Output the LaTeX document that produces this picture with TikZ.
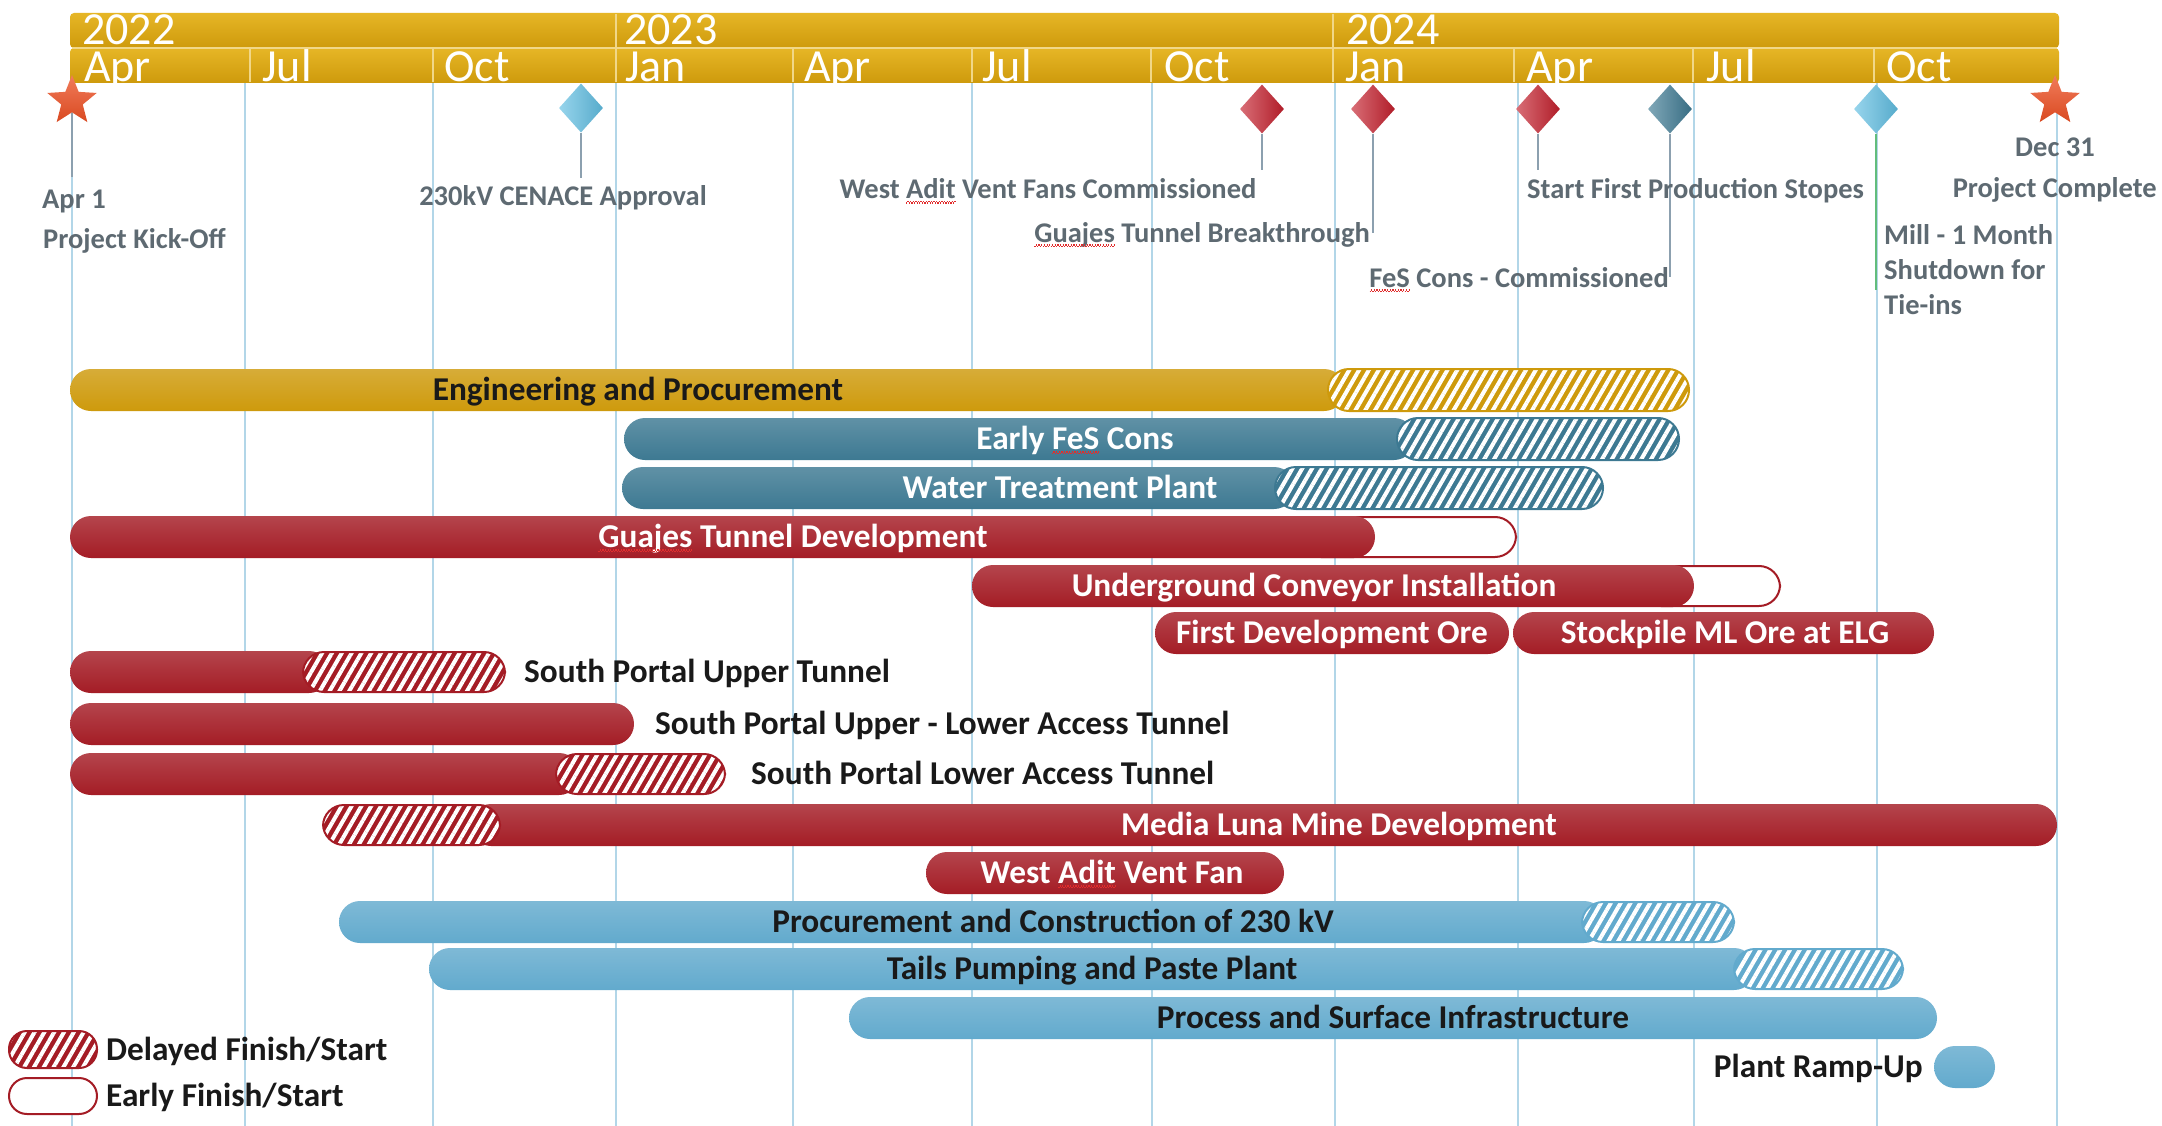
\documentclass[tikz,border=0pt]{standalone}
\usepackage{fontspec}
\setmainfont{Carlito}
\usetikzlibrary{shapes.geometric,patterns.meta}
\definecolor{cGold}{RGB}{206,154,12}
\definecolor{cGoldLt}{RGB}{230,182,38}
\definecolor{cTeal}{RGB}{61,121,146}
\definecolor{cRed}{RGB}{164,28,37}
\definecolor{cBlue}{RGB}{98,170,205}
\definecolor{cDiaBlue}{RGB}{96,190,226}
\definecolor{cDiaRed}{RGB}{196,32,45}
\definecolor{cStar}{RGB}{236,80,36}
\definecolor{cLab}{RGB}{94,106,114}
\definecolor{cGrid}{RGB}{178,214,232}
\definecolor{cStem}{RGB}{140,160,175}
\definecolor{cInk}{RGB}{25,25,25}
\definecolor{cSq}{RGB}{225,45,45}
\newsavebox\sqbox
\newcommand\sqw[1]{\sbox\sqbox{#1}\rlap{\usebox\sqbox}\textcolor{cSq}{\hbox to \wd\sqbox{\xleaders\hbox{\rule[-4.6pt]{1.3pt}{1.1pt}\rule[-3.5pt]{1.3pt}{1.1pt}}\hfill}}}
\begin{document}
\begin{tikzpicture}[x=1pt,y=-1pt,
  lab/.style={font=\fontsize{28.5}{32}\selectfont\bfseries, text=cLab, inner sep=0pt},
  btxt/.style={font=\fontsize{33.3}{37}\selectfont\bfseries, inner sep=0pt, anchor=base},
  hdr/.style={font=\fontsize{46}{46}\selectfont, text=white, inner sep=0pt, anchor=base west},
  gridline/.style={draw=cGrid, line width=1.4pt},
  stemline/.style={draw=cStem, line width=1.4pt},
  hsep/.style={draw=cGoldLt!55!white, line width=1.2pt},
  barfill/.style={top color=#1!82!white, bottom color=#1, rounded corners=21pt},
  hatchbar/.style={preaction={fill=#1}, pattern={Lines[angle=60,distance=8.5pt,line width=4pt]}, pattern color=white, draw=#1, line width=2pt, rounded corners=21pt},
  earlybar/.style={fill=white, draw=#1, line width=2pt, rounded corners=21pt},
  dia/.style={diamond, minimum width=44pt, minimum height=49pt, inner sep=0pt, left color=#1!65!white, right color=#1!90!black},
  starm/.style={star, star points=5, star point ratio=2.3, minimum size=52pt, inner sep=0pt, top color=cStar!75!white, bottom color=cStar!92!black},
]
\useasboundingbox (0,0) rectangle (2162,1126);
\fill[white] (0,0) rectangle (2162,1126);

% grid lines
\foreach \gx in {72,245,433,616,793,972,1152,1335,1518,1694,1877,2057}
  \draw[gridline] (\gx,83) -- (\gx,1126);

% header
\path[top color=cGoldLt, bottom color=cGold, rounded corners=4pt] (70,13) rectangle (2059,48);
\path[top color=cGoldLt, bottom color=cGold, rounded corners=4pt] (70,48) rectangle (2059,83);
\draw[hsep] (72,48) -- (2057,48);
\foreach \gx in {616,1333} \draw[hsep] (\gx,14) -- (\gx,82);
\foreach \gx in {250,433,793,972,1151,1514,1693,1874} \draw[hsep] (\gx,49) -- (\gx,82);
\begin{scope}
\clip (70,13) rectangle (2059,48);
\node[hdr] (y22) at (82,45) {2022};
\node[hdr] (y23) at (624,45) {2023};
\node[hdr] (y24) at (1346,45) {2024};
\end{scope}
\begin{scope}
\clip (70,48) rectangle (2059,83);
\node[hdr] (q1) at (84,82) {Apr};
\node[hdr] (q2) at (262,82) {Jul};
\node[hdr] (q3) at (444,82) {Oct};
\node[hdr] (q4) at (625,82) {Jan};
\node[hdr] (q5) at (804,82) {Apr};
\node[hdr] (q6) at (982,82) {Jul};
\node[hdr] (q7) at (1164,82) {Oct};
\node[hdr] (q8) at (1345,82) {Jan};
\node[hdr] (q9) at (1526,82) {Apr};
\node[hdr] (q10) at (1706,82) {Jul};
\node[hdr] (q11) at (1886,82) {Oct};
\end{scope}

% milestones
\coordinate (e1) at (72,177);
\coordinate (e2) at (581,178);
\coordinate (e3) at (1262,170);
\coordinate (e4) at (1373,233);
\coordinate (e5) at (1538,170);
\coordinate (e6) at (1670,277);
\coordinate (e7) at (1876,290);
\node[dia=cDiaBlue] (m2) at (581,108) {};
\node[dia=cDiaRed] (m3) at (1262,109) {};
\node[dia=cDiaRed] (m4) at (1373,109) {};
\node[dia=cDiaRed] (m5) at (1538,109) {};
\node[dia=cTeal] (m6) at (1670,109) {};
\node[dia=cDiaBlue] (m7) at (1876,109) {};
\node[starm] (m1) at (72,101) {};
\node[starm] (m8) at (2055,101) {};
\draw[stemline] (m1.south) -- (e1);
\draw[stemline] (m2.south) -- (e2);
\draw[stemline] (m3.south) -- (e3);
\draw[stemline] (m4.south) -- (e4);
\draw[stemline] (m5.south) -- (e5);
\draw[stemline] (m6.south) -- (e6);
\draw[stemline, draw=cStem!70!green] (m7.south) -- (e7);

% milestone labels
\node[lab, anchor=base west] (l1a) at (42,208) {Apr 1};
\node[lab, anchor=base west] (l1b) at (43,248) {Project Kick-Off};
\node[lab, anchor=base] (l2) at (563,205) {230kV CENACE Approval};
\node[lab, anchor=base] (l3) at (1048,199) {West \sqw{Adit} Vent Fans Commissioned};
\node[lab, anchor=base east] (l4) at (1370,242) {\sqw{Guajes} Tunnel Breakthrough};
\node[lab, anchor=base east] (l5) at (1669,287) {\sqw{FeS} Cons - Commissioned};
\node[lab, anchor=base west] (l6) at (1527,199) {Start First Production Stopes};
\node[lab, anchor=base] (l7a) at (2055,157) {Dec 31};
\node[lab, anchor=base east] (l7b) at (2157,197) {Project Complete};
\node[lab, anchor=base west] (l8a) at (1884,244) {Mill - 1 Month};
\node[lab, anchor=base west] (l8b) at (1884,279) {Shutdown for};
\node[lab, anchor=base west] (l8c) at (1884,314) {Tie-ins};

% bars
% R1
\path[barfill=cGold] (70,369) rectangle (1345,411);
\path[hatchbar=cGold] (1328,369) rectangle (1689,411);
\node[btxt, text=cInk] (b1) at (638,400) {Engineering and Procurement};
% R2
\path[barfill=cTeal] (624,418) rectangle (1415,460);
\path[hatchbar=cTeal] (1397,418) rectangle (1679,460);
\node[btxt, text=white] (b2) at (1075,449) {Early \sqw{FeS} Cons};
% R3
\path[barfill=cTeal] (622,467) rectangle (1295,509);
\path[hatchbar=cTeal] (1275,467) rectangle (1603,509);
\node[btxt, text=white] (b3) at (1060,498) {Water Treatment Plant};
% R4
\path[earlybar=cRed] (1300,517) rectangle (1516,557);
\path[barfill=cRed] (70,516) rectangle (1375,558);
\node[btxt, text=white] (b4) at (793,547) {\sqw{Guajes} Tunnel Development};
% R5
\path[earlybar=cRed] (1640,566) rectangle (1780,606);
\path[barfill=cRed] (972,565) rectangle (1694,607);
\node[btxt, text=white] (b5) at (1314,596) {Underground Conveyor Installation};
% R6
\path[barfill=cRed] (1155,612) rectangle (1509,654);
\node[btxt, text=white] (b6) at (1332,643) {First Development Ore};
\path[barfill=cRed] (1513,612) rectangle (1934,654);
\node[btxt, text=white] (b7) at (1725,643) {Stockpile ML Ore at ELG};
% R7
\path[barfill=cRed] (70,651) rectangle (330,693);
\path[hatchbar=cRed] (303,652) rectangle (505,692);
\node[btxt, anchor=base west, text=cInk] (b8) at (524,682) {South Portal Upper Tunnel};
% R8
\path[barfill=cRed] (70,703) rectangle (634,745);
\node[btxt, anchor=base west, text=cInk] (b9) at (655,734) {South Portal Upper - Lower Access Tunnel};
% R9
\path[barfill=cRed] (70,753) rectangle (580,795);
\path[hatchbar=cRed] (556,754) rectangle (725,794);
\node[btxt, anchor=base west, text=cInk] (b10) at (751,784) {South Portal Lower Access Tunnel};
% R10
\path[barfill=cRed] (470,804) rectangle (2057,846);
\path[hatchbar=cRed] (323,805) rectangle (500,845);
\node[btxt, text=white] (b11) at (1339,835) {Media Luna Mine Development};
% R11
\path[barfill=cRed] (926,852) rectangle (1284,894);
\node[btxt, text=white] (b12) at (1112,883) {West \sqw{Adit} Vent Fan};
% R12
\path[barfill=cBlue] (339,901) rectangle (1605,943);
\path[hatchbar=cBlue] (1582,902) rectangle (1734,942);
\node[btxt, text=cInk] (b13) at (1053,932) {Procurement and Construction of 230 kV};
% R13
\path[barfill=cBlue] (429,948) rectangle (1755,990);
\path[hatchbar=cBlue] (1734,949) rectangle (1903,989);
\node[btxt, text=cInk] (b14) at (1092,979) {Tails Pumping and Paste Plant};
% R14
\path[barfill=cBlue] (849,997) rectangle (1937,1039);
\node[btxt, text=cInk] (b15) at (1393,1028) {Process and Surface Infrastructure};
% R15
\path[barfill=cBlue] (1934,1046) rectangle (1995,1088);
\node[btxt, anchor=base east, text=cInk] (b16) at (1923,1077) {Plant Ramp-Up};

% legend
\path[hatchbar=cRed, rounded corners=18pt] (9,1031) rectangle (97,1068);
\node[btxt, anchor=base west, text=cInk] (g1) at (106,1060) {Delayed Finish/Start};
\path[earlybar=cRed, rounded corners=18pt] (9,1078) rectangle (97,1114);
\node[btxt, anchor=base west, text=cInk] (g2) at (106,1106) {Early Finish/Start};
\end{tikzpicture}
\end{document}
